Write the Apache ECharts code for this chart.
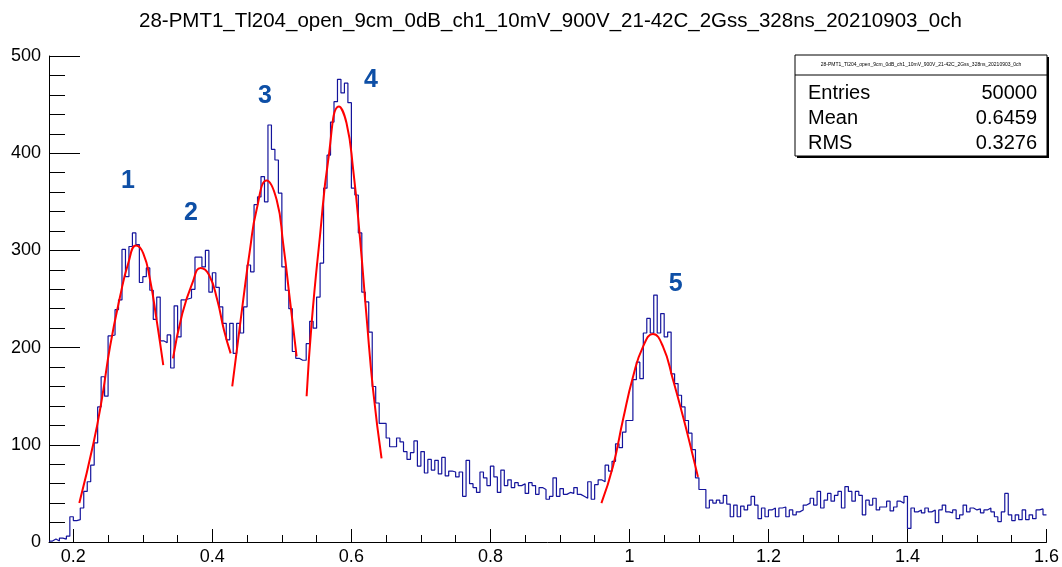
<!DOCTYPE html>
<html><head><meta charset="utf-8">
<script src="https://cdn.jsdelivr.net/npm/echarts@6/dist/echarts.min.js"></script>
<style>html,body{margin:0;padding:0;background:#fff}#c{width:1062px;height:567px}</style>
</head><body><div id="c"></div>
<script>
const titleText = '28-PMT1_Tl204_open_9cm_0dB_ch1_10mV_900V_21-42C_2Gss_328ns_20210903_0ch';
const binStart = 0.165;
const binWidth = 0.005;
const xEnd = 1.6;
const counts = [
  1, 3, 1, 4, 3, 6, 26, 22, 23, 35,
  52, 62, 79, 102, 139, 170, 150, 212, 213, 239,
  249, 301, 273, 304, 318, 306, 267, 273, 282, 259,
  229, 252, 207, 205, 213, 179, 243, 211, 249, 250,
  251, 260, 293, 293, 283, 300, 257, 277, 262, 242,
  225, 208, 225, 194, 225, 215, 242, 285, 278, 347,
  355, 376, 350, 429, 404, 393, 359, 283, 259, 240,
  196, 189, 187, 187, 204, 227, 220, 252, 287, 364,
  398, 432, 453, 476, 462, 472, 452, 364, 357, 318,
  257, 247, 216, 160, 143, 122, 122, 107, 98, 98,
  107, 103, 93, 85, 92, 104, 78, 93, 71, 85,
  74, 84, 70, 87, 68, 73, 72, 67, 72, 47,
  84, 60, 56, 51, 72, 66, 58, 78, 67, 51,
  74, 58, 64, 56, 61, 58, 60, 50, 61, 58,
  49, 56, 54, 44, 47, 66, 47, 55, 49, 51,
  50, 56, 49, 47, 45, 62, 44, 59, 64, 62,
  79, 73, 83, 101, 97, 113, 125, 125, 167, 185,
  168, 215, 230, 215, 254, 215, 235, 211, 216, 173,
  163, 151, 139, 125, 112, 95, 66, 54, 54, 35,
  43, 40, 43, 40, 48, 39, 26, 38, 26, 37,
  33, 38, 47, 38, 24, 35, 26, 33, 35, 26,
  35, 36, 26, 33, 28, 31, 33, 38, 40, 45,
  38, 52, 35, 43, 50, 42, 48, 52, 35, 57,
  52, 42, 52, 48, 28, 43, 38, 45, 33, 36,
  36, 42, 32, 36, 42, 40, 47, 14, 35, 31,
  33, 30, 35, 31, 33, 20, 33, 38, 31, 30,
  33, 24, 28, 38, 31, 35, 33, 34, 30, 33,
  35, 31, 26, 21, 31, 50, 28, 22, 28, 23,
  33, 23, 28, 24, 33, 34, 28
];
const fit1 = [[0.2086,40],[0.2288,101],[0.2408,146],[0.2528,201],[0.2671,252],[0.2791,287],[0.2902,305],[0.3006,297],[0.3103,270],[0.3199,228],[0.3294,182]];
const fit2 = [[0.3434,189],[0.3568,235],[0.3711,266],[0.3832,282],[0.3951,275],[0.4071,249],[0.4167,218],[0.4263,194]];
const fit3 = [[0.4286,160],[0.4444,249],[0.4540,300],[0.4637,342],[0.4781,372],[0.4925,352],[0.5019,307],[0.5116,249],[0.5212,191]];
const fit4 = [[0.5356,150],[0.5428,225],[0.5547,314],[0.5667,393],[0.5820,448],[0.5930,431],[0.6026,383],[0.6122,314],[0.6218,232],[0.6313,156],[0.6434,86]];
const fit5 = [[0.9597,40],[0.9764,78],[0.9908,126],[1.0052,170],[1.0196,201],[1.0339,214],[1.0483,201],[1.0627,167],[1.0771,129],[1.0867,102],[1.0986,67]];
const peakNames = ['1', '2', '3', '4', '5'];
const peakX = [0.2787, 0.3692, 0.4756, 0.6281, 1.0666];
const peakY = [371, 338, 459, 475, 265];
const statNames = ['Entries', 'Mean', 'RMS'];
const statValues = ['50000', '0.6459', '0.3276'];
const xTicks = [0.2, 0.4, 0.6, 0.8, 1, 1.2, 1.4, 1.6];
const xMinorTicks = [0.2,0.25,0.3,0.35,0.4,0.45,0.5,0.55,0.6,0.65,0.7,0.75,0.8,0.85,0.9,0.95,1,1.05,1.1,1.15,1.2,1.25,1.3,1.35,1.4,1.45,1.5,1.55,1.6];
const yTicks = [0, 100, 200, 300, 400, 500];
const yMinorTicks = [0,20,40,60,80,100,120,140,160,180,200,220,240,260,280,300,320,340,360,380,400,420,440,460,480,500];

const histData = counts.map((c, i) => [+(binStart + i * binWidth).toFixed(4), c]);
histData.push([xEnd, counts[counts.length - 1]]);

const FONT = 'Liberation Sans, Arial, Helvetica, sans-serif';
const chart = echarts.init(document.getElementById('c'), null, {renderer: 'canvas'});
const fitSeries = [fit1, fit2, fit3, fit4, fit5].map(d => ({
  type: 'line', data: d, smooth: true, symbol: 'none', silent: true,
  lineStyle: {color: '#ff0000', width: 2}, z: 3
}));

const boxL = 795, boxT = 55, boxW = 252, boxH = 101;
const graphics = [
  {type: 'rect', shape: {x: boxL + 2, y: boxT + 2, width: boxW, height: boxH}, style: {fill: '#000'}, z: 100},
  {type: 'rect', shape: {x: boxL, y: boxT, width: boxW, height: boxH}, style: {fill: '#fff', stroke: '#000', lineWidth: 1}, z: 101},
  {type: 'line', shape: {x1: boxL, y1: boxT + 20, x2: boxL + boxW, y2: boxT + 20}, style: {stroke: '#000', lineWidth: 1}, z: 102},
  {type: 'text', x: boxL + boxW / 2, y: boxT + 10, style: {text: titleText, fontSize: 5, fontFamily: FONT, fill: '#000', align: 'center', verticalAlign: 'middle'}, z: 102}
];
statNames.forEach((n, i) => {
  graphics.push({type: 'text', x: boxL + 13, y: 93 + i * 25, style: {text: n, fontSize: 20, fontFamily: FONT, fill: '#000', align: 'left', verticalAlign: 'middle'}, z: 102});
  graphics.push({type: 'text', x: boxL + boxW - 10, y: 93 + i * 25, style: {text: statValues[i], fontSize: 20, fontFamily: FONT, fill: '#000', align: 'right', verticalAlign: 'middle'}, z: 102});
});

chart.setOption({
  animation: false,
  backgroundColor: '#fff',
  title: {text: titleText, left: 134, top: 6, textStyle: {fontSize: 20.5, fontWeight: 'normal', color: '#000', fontFamily: FONT}},
  grid: {left: 49, right: 15, top: 56, bottom: 25},
  xAxis: [{
    type: 'value', min: binStart, max: xEnd,
    axisLine: {show: true, lineStyle: {color: '#000', width: 1}},
    axisTick: {show: true, inside: true, length: 13, customValues: xTicks, lineStyle: {color: '#000'}},
    axisLabel: {show: true, customValues: xTicks, fontSize: 18, color: '#000', fontFamily: FONT, margin: 6},
    splitLine: {show: false}
  }, {
    type: 'value', min: binStart, max: xEnd, position: 'bottom',
    axisLine: {show: false},
    axisTick: {show: true, inside: true, length: 7, customValues: xMinorTicks, lineStyle: {color: '#000'}},
    axisLabel: {show: false},
    splitLine: {show: false}
  }],
  yAxis: [{
    type: 'value', min: 0, max: 500,
    axisLine: {show: true, lineStyle: {color: '#000', width: 1}},
    axisTick: {show: true, inside: true, length: 31, customValues: yTicks, lineStyle: {color: '#000'}},
    axisLabel: {show: true, customValues: yTicks, fontSize: 18, color: '#000', fontFamily: FONT, margin: 8},
    splitLine: {show: false}
  }, {
    type: 'value', min: 0, max: 500, position: 'left',
    axisLine: {show: false},
    axisTick: {show: true, inside: true, length: 16, customValues: yMinorTicks, lineStyle: {color: '#000'}},
    axisLabel: {show: false},
    splitLine: {show: false}
  }],
  series: [{
    type: 'line', data: histData, step: 'end', symbol: 'none', silent: true,
    lineStyle: {color: '#14149c', width: 1.2}, z: 2
  }].concat(fitSeries).concat([{
    type: 'scatter', symbol: 'circle', symbolSize: 1, itemStyle: {color: 'rgba(255,255,255,0)', opacity: 1}, silent: true, z: 4,
    data: peakNames.map((n, i) => ({name: n, value: [peakX[i], peakY[i]]})),
    label: {show: true, position: 'inside', formatter: '{b}', fontSize: 25, fontWeight: 'bold', color: '#0e4fa6', opacity: 1, textBorderWidth: 0, fontFamily: FONT}
  }]),
  graphic: graphics
});
</script>
</body></html>
